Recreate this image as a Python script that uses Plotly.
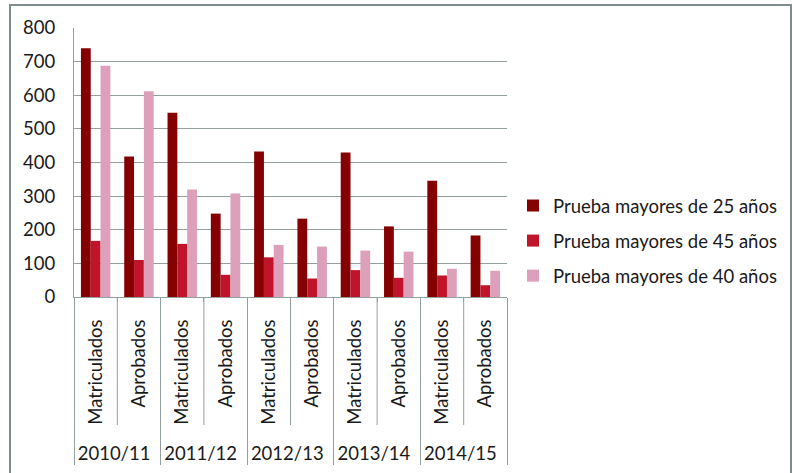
import plotly.graph_objects as go

years = ["2010/11", "2010/11", "2011/12", "2011/12", "2012/13", "2012/13",
         "2013/14", "2013/14", "2014/15", "2014/15"]
stages = ["Matriculados", "Aprobados"] * 5
series_names = ["Prueba mayores de 25 años", "Prueba mayores de 45 años", "Prueba mayores de 40 años"]
may25 = [740, 418, 548, 248, 433, 233, 430, 210, 346, 183]
may45 = [167, 110, 158, 66, 118, 55, 80, 57, 64, 35]
may40 = [688, 612, 320, 308, 155, 150, 138, 135, 84, 78]
colors = ["#850000", "#C0142B", "#DDA0BA"]

# leading no-break spaces leave room between the two label rows, as in the original
stage_labels = ["\u00a0\u00a0\u00a0" + s for s in stages]

fig = go.Figure()
for i, (name, vals, col) in enumerate(zip(series_names, [may25, may45, may40], colors)):
    fig.add_trace(go.Bar(x=[years, stage_labels], y=vals, name=name, legendgroup=f"g{i}",
                         marker=dict(color=col, line=dict(width=0))))

font = "Lato, 'Open Sans', sans-serif"
grid = "#949f9f"
L, R, T, B = 74, 507, 28, 297
W, H = R - L, B - T

inner_lines = [dict(type="line", xref="paper", yref="paper",
                    x0=k / 10, x1=k / 10, y0=0, y1=-(425 - B) / H,
                    line=dict(color=grid, width=1)) for k in (1, 3, 5, 7, 9)]

fig.update_layout(
    width=792, height=473,
    barmode="group", bargap=0.32, bargroupgap=0,
    paper_bgcolor="white", plot_bgcolor="white",
    margin=dict(l=L, r=792 - R, t=T, b=473 - B, autoexpand=False),
    font=dict(family=font, size=18.5, color="#1a1a1a"),
    legend=dict(x=(513 - L) / W, y=(B - 241) / H, xanchor="left", yanchor="middle",
                font=dict(size=18.5), itemwidth=30, tracegroupgap=8),
    yaxis=dict(range=[0, 800], dtick=100, showgrid=True, gridcolor=grid,
               gridwidth=1, showline=True, linecolor=grid, zeroline=False,
               ticks="outside", ticklen=14, tickcolor="rgba(0,0,0,0)",
               tickfont=dict(size=18.5), automargin=False),
    xaxis=dict(showline=True, linecolor=grid, tickangle=-90,
               ticks="outside", ticklen=4, tickcolor=grid, ticklabelstandoff=14,
               showdividers=True, dividercolor=grid, dividerwidth=1,
               tickfont=dict(size=18.5), automargin=False),
    shapes=inner_lines + [dict(type="rect", xref="paper", yref="paper",
                 x0=(10 - L) / W, x1=(791 - L) / W, y0=(B - 480) / H, y1=(B - 5) / H,
                 line=dict(color="#7f8c8d", width=2))],
)
fig.write_html("out.html", config={"displayModeBar": False},
               post_script="document.body.style.margin='0';document.body.style.overflow='hidden';")
